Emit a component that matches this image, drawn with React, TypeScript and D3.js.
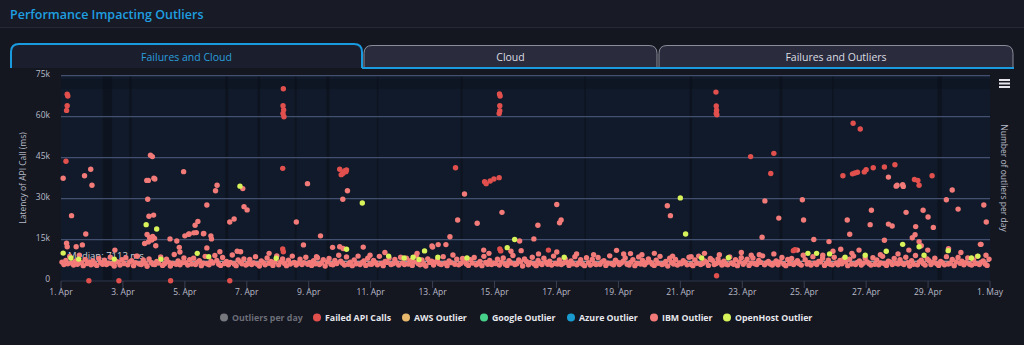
import React, { useEffect, useRef } from "react";
import * as d3 from "d3";

// latency values are in thousands of ms, positions in days after 1 Apr
const yTicks = [0, 15, 30, 45, 60, 75];
const tabNames = ["Failures and Cloud", "Cloud", "Failures and Outliers"];
const legendNames = [
  "Outliers per day",
  "Failed API Calls",
  "AWS Outlier",
  "Google Outlier",
  "Azure Outlier",
  "IBM Outlier",
  "OpenHost Outlier",
];
const legendColors = ["#8a8b90", "#e2504e", "#e8b86c", "#47d08a", "#1a9bd0", "#f27a78", "#d8f25a"];
const medianMs = 7113;

// IBM outliers in the dense band, 16 readings per day
const ibmBand = [
  6.8, 5.9, 7.4, 6.2, 8.9, 6.5, 5.7, 7.1, 6.0, 9.3, 6.6, 5.5, 7.8, 6.3, 6.9, 5.8,
  7.2, 6.1, 5.6, 8.1, 6.7, 6.0, 7.5, 5.9, 6.4, 8.6, 6.2, 5.4, 7.0, 6.8, 5.7, 7.7,
  6.3, 8.4, 5.8, 6.9, 7.3, 5.5, 6.6, 9.0, 6.1, 5.9, 7.6, 6.4, 5.3, 8.0, 6.7, 6.0,
  5.9, 7.0, 6.5, 8.7, 5.6, 6.2, 7.9, 6.8, 5.4, 6.3, 9.6, 6.0, 7.2, 5.8, 6.6, 8.3,
  6.6, 5.7, 7.7, 6.1, 8.2, 5.9, 6.8, 7.3, 5.5, 6.4, 8.9, 6.2, 5.8, 7.1, 6.5, 9.2,
  7.4, 6.0, 5.6, 8.5, 6.3, 7.0, 5.8, 6.7, 9.4, 6.1, 5.5, 7.6, 6.9, 6.2, 8.0, 5.7,
  6.2, 7.8, 5.9, 6.5, 8.8, 6.0, 5.4, 7.2, 6.6, 5.8, 8.3, 6.4, 7.0, 5.6, 6.8, 9.1,
  5.8, 6.9, 8.0, 6.3, 5.5, 7.5, 6.1, 9.0, 6.7, 5.7, 6.4, 7.9, 5.9, 6.6, 8.6, 6.0,
  6.7, 5.6, 7.3, 6.2, 8.4, 5.9, 6.5, 7.7, 5.4, 6.9, 8.1, 6.0, 5.8, 7.4, 6.3, 9.3,
  7.1, 6.4, 5.7, 8.7, 6.0, 6.8, 5.5, 7.6, 6.2, 9.0, 5.9, 6.6, 7.2, 5.6, 8.2, 6.1,
  6.0, 7.4, 6.6, 5.8, 8.9, 6.3, 5.5, 7.0, 6.7, 8.3, 5.9, 6.2, 7.8, 6.5, 5.7, 8.6,
  6.5, 5.9, 8.2, 6.1, 7.3, 5.6, 6.9, 9.1, 6.3, 5.8, 7.6, 6.0, 5.4, 8.0, 6.7, 7.1,
  5.7, 6.8, 7.5, 6.2, 5.9, 8.8, 6.4, 5.5, 7.2, 6.6, 9.4, 6.0, 7.9, 5.8, 6.3, 8.1,
  6.9, 6.1, 5.6, 7.7, 6.5, 8.5, 5.8, 6.3, 7.0, 5.5, 8.9, 6.7, 6.0, 7.4, 5.9, 6.4,
  6.3, 7.9, 5.7, 6.8, 8.3, 6.0, 5.6, 7.3, 6.5, 9.2, 5.9, 6.2, 7.6, 6.9, 5.4, 8.0,
  7.0, 5.8, 6.6, 8.6, 6.1, 5.5, 7.4, 6.4, 5.9, 8.2, 6.8, 6.0, 7.1, 5.7, 9.0, 6.3,
  6.1, 7.6, 5.9, 6.4, 8.0, 6.7, 5.6, 7.2, 6.2, 8.8, 5.8, 6.5, 7.7, 6.0, 5.5, 8.4,
  6.6, 5.7, 7.8, 6.3, 5.9, 8.5, 6.0, 6.9, 7.3, 5.6, 6.4, 9.1, 6.2, 5.8, 7.5, 6.8,
  5.9, 6.5, 7.1, 8.3, 6.0, 5.7, 6.8, 7.7, 5.5, 6.3, 8.7, 6.1, 7.4, 5.8, 6.6, 8.0,
  6.8, 6.0, 5.6, 7.5, 6.4, 8.9, 5.9, 6.2, 7.0, 5.4, 8.2, 6.7, 6.1, 7.8, 5.7, 6.5,
  6.2, 7.3, 6.7, 5.8, 8.6, 6.0, 5.5, 7.6, 6.4, 9.0, 5.9, 6.3, 7.2, 6.8, 5.6, 8.1,
  7.5, 5.9, 6.3, 8.0, 6.6, 5.7, 7.1, 6.1, 5.8, 8.7, 6.5, 6.0, 7.7, 5.5, 6.9, 8.4,
  6.0, 6.8, 7.9, 5.6, 6.4, 8.3, 6.2, 5.9, 7.4, 6.7, 9.1, 5.8, 6.5, 7.0, 6.1, 5.7,
  6.4, 7.2, 5.8, 6.9, 8.5, 6.0, 5.5, 7.8, 6.3, 8.1, 5.9, 6.6, 7.3, 6.2, 5.7, 9.3,
  7.7, 6.1, 6.6, 5.7, 8.8, 6.4, 5.9, 7.0, 6.8, 8.2, 5.6, 6.3, 7.5, 6.0, 5.8, 8.6,
  6.5, 5.8, 7.4, 6.2, 8.0, 6.9, 5.5, 7.9, 6.1, 9.0, 5.9, 6.7, 7.2, 5.7, 6.4, 8.3,
  6.9, 6.3, 5.7, 8.4, 6.0, 7.6, 5.8, 6.5, 8.9, 6.2, 5.6, 7.1, 6.8, 5.9, 8.1, 6.4,
  6.1, 7.7, 6.4, 5.9, 8.6, 6.6, 5.4, 7.3, 6.0, 9.2, 5.8, 6.9, 7.5, 6.3, 5.7, 8.0,
  7.3, 5.9, 6.7, 8.2, 6.2, 5.6, 7.0, 6.5, 5.8, 8.8, 6.1, 6.4, 7.8, 5.5, 6.9, 8.5,
  6.4, 7.1, 5.8, 6.6, 8.3, 6.0, 5.7, 7.6, 6.3, 8.9, 5.9, 6.8, 7.2, 6.1, 5.6, 7.9,
];
const bandPerDay = 16;

// IBM outliers above the band [day, latency k]
const ibmHigh = [
  [0.07, 37.5], [0.96, 40.8], [0.76, 38.4], [1.0, 34.9], [0.34, 23.8], [0.8, 17.1], [0.18, 13.7],
  [0.69, 13.1], [0.2, 12.4], [0.49, 12.4], [1.74, 11.2], [2.43, 9.0],
  [2.89, 45.9], [2.95, 45.4], [2.77, 36.7], [2.82, 36.7], [3.0, 37.5], [3.03, 37.2], [2.8, 29.8],
  [2.84, 23.6], [2.99, 24.0], [2.78, 16.9], [2.86, 15.8], [2.93, 14.9], [2.96, 16.2], [3.02, 15.5],
  [2.7, 13.6], [2.82, 14.2], [3.06, 12.8], [3.82, 12.2], [3.84, 10.5],
  [3.96, 39.9], [5.04, 34.9], [4.99, 32.9], [4.71, 27.7], [4.42, 21.7], [4.33, 20.3], [4.29, 17.5],
  [4.12, 17.0], [4.0, 16.4], [4.61, 17.3], [4.86, 15.3], [3.52, 15.3], [3.74, 14.5], [5.59, 22.6],
  [5.45, 21.5], [5.87, 33.7], [5.91, 27.1], [6.01, 25.9], [4.14, 17.1], [4.37, 17.6], [4.6, 17.2],
  [4.71, 12.0], [4.84, 16.4], [5.13, 10.6], [5.69, 10.8], [5.8, 10.6], [6.72, 10.0],
  [7.6, 21.5], [7.96, 35.5], [8.38, 16.4], [7.83, 13.1], [9.25, 32.9], [9.1, 29.8], [9.76, 12.3],
  [8.25, 8.8], [8.77, 12.2], [9.0, 12.4], [9.11, 11.8], [9.98, 9.3], [10.46, 10.3], [11.5, 10.0],
  [11.98, 12.7], [12.18, 13.2], [12.43, 13.2], [12.56, 16.1], [12.0, 12.3],
  [13.03, 31.7], [14.24, 25.0], [12.81, 22.2], [13.44, 21.0], [16.01, 27.9], [16.15, 22.2],
  [16.1, 21.2], [15.4, 20.3], [15.27, 15.3], [14.81, 14.5], [13.65, 11.2], [13.82, 10.0],
  [14.53, 10.8], [14.86, 11.0], [15.42, 9.8], [16.01, 10.5], [16.65, 9.8], [17.2, 9.5],
  [17.94, 11.1], [18.17, 9.8], [18.39, 9.9], [18.76, 9.5], [19.16, 10.0], [19.75, 9.0],
  [19.58, 27.4], [19.68, 23.8],
  [20.35, 8.8], [20.78, 10.0], [21.26, 9.5], [21.97, 10.3], [22.29, 9.3], [22.55, 9.5],
  [22.64, 15.9], [23.02, 9.8], [23.78, 11.2], [24.31, 15.1], [24.6, 9.3], [24.8, 14.3],
  [24.93, 10.8], [25.18, 11.5], [25.47, 17.0], [25.54, 10.0], [25.77, 11.2], [26.59, 14.8],
  [26.46, 9.5], [27.03, 9.8], [27.38, 11.2], [27.49, 15.7], [27.58, 16.8], [27.71, 14.3],
  [27.78, 12.8], [27.99, 11.2], [28.66, 11.7], [29.06, 10.3], [29.69, 13.3], [29.87, 9.3],
  [22.73, 29.2], [23.94, 29.6], [23.18, 22.9], [23.98, 22.2], [26.17, 25.8], [25.39, 22.2],
  [26.13, 20.5], [26.72, 20.7], [26.84, 20.0], [27.29, 25.0], [27.84, 25.8], [28.0, 23.3],
  [27.6, 19.8], [28.17, 19.5], [28.78, 33.2], [28.59, 29.6], [28.97, 26.2], [29.8, 27.7],
  [29.88, 21.5], [26.97, 34.6], [27.0, 34.9], [27.18, 35.1], [27.2, 34.5], [26.72, 37.9],
  [29.71, 13.3],
];

// failed API calls [day, latency k]
const failedCalls = [
  [0.2, 68.2], [0.22, 67.6], [0.2, 64.0], [0.18, 62.3], [0.16, 43.7],
  [0.9, 0], [1.87, 0], [3.54, 0], [5.45, 0],
  [7.18, 70.2], [7.17, 64.0], [7.19, 62.5], [7.17, 61.2], [7.2, 60.0], [7.16, 41.1], [7.16, 11.6], [7.18, 10.6],
  [9.0, 40.8], [9.05, 38.8], [9.12, 39.6], [9.17, 40.2], [9.2, 39.9], [9.22, 40.5], [9.1, 39.2],
  [14.16, 68.3], [14.18, 67.6], [14.17, 64.0], [14.17, 62.2], [14.15, 61.2], [14.17, 11.6], [14.2, 10.9],
  [13.68, 36.2], [13.73, 35.5], [13.86, 36.5], [13.98, 37.2], [14.15, 37.7], [12.74, 41.3], [15.74, 11.2],
  [21.15, 69.0], [21.16, 63.9], [21.17, 62.4], [21.16, 61.2], [21.18, 60.7], [21.17, 1.8],
  [25.58, 57.6], [25.81, 55.5], [22.27, 45.4], [23.02, 46.6], [23.65, 11.0], [23.7, 11.3],
  [22.92, 39.2], [25.25, 38.4], [25.56, 39.1], [25.64, 39.4], [25.72, 39.7], [25.94, 39.8],
  [26.0, 40.6], [26.23, 41.3], [26.59, 41.6], [26.93, 42.4], [27.56, 37.0], [27.67, 36.7],
  [27.71, 34.9], [28.13, 38.4],
];

// OpenHost outliers [day, latency k]
const openHost = [
  [0.07, 10.1], [0.32, 8.3], [0.57, 7.9], [1.72, 7.9], [2.75, 20.5], [3.09, 18.9], [3.23, 7.9],
  [4.4, 10.0], [4.77, 8.8], [5.78, 34.6], [6.95, 8.2], [9.22, 11.5], [9.73, 28.4], [10.58, 9.0],
  [11.08, 8.3], [11.37, 8.6], [11.56, 7.8], [11.74, 10.9], [12.17, 8.6], [13.11, 8.3],
  [14.41, 12.1], [14.65, 15.1], [16.25, 8.6], [20.0, 30.3], [20.17, 17.1], [20.69, 8.3],
  [21.55, 8.4], [24.12, 10.0], [24.4, 10.0], [24.82, 9.8], [25.32, 8.6], [25.97, 9.3],
  [26.65, 10.8], [27.18, 13.3], [27.71, 12.4], [27.87, 9.3], [28.65, 11.0], [29.4, 8.3], [29.61, 9.0],
];

// dim per-day columns behind the points [start day, width in days]
const darkColumns = [
  [1.35, 0.3], [2.2, 0.08], [5.3, 0.1], [6.35, 0.08], [7.55, 0.06], [8.57, 0.1], [10.2, 0.05],
  [12.9, 0.07], [16.9, 0.05], [20.3, 0.08], [23.2, 0.1], [24.9, 0.05], [28.3, 0.15],
];

const start = Date.UTC(2024, 3, 1);
const toDate = (d: number) => new Date(start + d * 86400000);

const App = () => {
  const ref = useRef<SVGSVGElement>(null);

  useEffect(() => {
    const svg = d3.select(ref.current);
    svg.selectAll("*").remove();
    const font = "'Open Sans', 'Noto Sans', sans-serif";

    svg.append("rect").attr("width", 1024).attr("height", 345).attr("fill", "#141620");
    svg.append("rect").attr("width", 1024).attr("height", 27).attr("fill", "#181a26");
    svg.append("line").attr("x1", 0).attr("x2", 1024).attr("y1", 27.5).attr("y2", 27.5)
      .attr("stroke", "#262938");
    svg.append("text").attr("x", 10).attr("y", 19).attr("fill", "#1f9fe0")
      .attr("font-family", font).attr("font-size", 12.5).attr("font-weight", 600)
      .text("Performance Impacting Outliers");

    // tabs
    const tabX = [[11, 362], [364, 657], [659, 1013]];
    const tabPath = (x0: number, x1: number, y0: number, y1: number, r: number) =>
      `M${x0},${y1} L${x0},${y0 + r} Q${x0},${y0} ${x0 + r},${y0} L${x1 - r},${y0} Q${x1},${y0} ${x1},${y0 + r} L${x1},${y1}`;
    tabNames.forEach((name, i) => {
      const [x0, x1] = tabX[i];
      const active = i === 0;
      svg.append("path")
        .attr("d", tabPath(x0, x1, active ? 44 : 45.5, 68, 8) + (active ? "" : " Z"))
        .attr("fill", active ? "#1b1e2d" : "#2a2c3d")
        .attr("stroke", active ? "#1a9be0" : "#8a8c98")
        .attr("stroke-width", active ? 2 : 1);
      svg.append("text").attr("x", (x0 + x1) / 2).attr("y", 61)
        .attr("text-anchor", "middle").attr("font-family", font).attr("font-size", 10.5)
        .attr("fill", active ? "#2a9fdc" : "#dcdde3").text(name);
    });
    svg.append("line").attr("x1", 362).attr("x2", 1014).attr("y1", 68).attr("y2", 68)
      .attr("stroke", "#1a9be0").attr("stroke-width", 2);

    const x = d3.scaleUtc().domain([toDate(0), toDate(30)]).range([61, 990]);
    const y = d3.scaleLinear().domain([0, 75]).range([280.7, 75.7]);

    svg.append("rect").attr("x", 61).attr("y", 75.7).attr("width", 929).attr("height", 205)
      .attr("fill", "#111a2a");
    svg.append("g").selectAll("rect").data(darkColumns).join("rect")
      .attr("x", (d) => x(toDate(d[0])))
      .attr("y", 76)
      .attr("width", (d) => x(toDate(d[0] + d[1])) - x(toDate(d[0])))
      .attr("height", 204)
      .attr("fill", "#000").attr("opacity", 0.22);
    svg.append("rect").attr("x", 61).attr("y", 79).attr("width", 929).attr("height", 10)
      .attr("fill", "#0a0f1a").attr("opacity", 0.45);

    // grid + y labels
    svg.append("g").selectAll("line").data(yTicks.filter((t) => t > 0)).join("line")
      .attr("x1", 61).attr("x2", 990)
      .attr("y1", (d) => y(d)).attr("y2", (d) => y(d))
      .attr("stroke", "#43506f").attr("stroke-width", 1.3);
    svg.append("g").selectAll("text").data(yTicks).join("text")
      .attr("x", 50).attr("y", (d) => y(d) + 1)
      .attr("text-anchor", "end").attr("font-family", font).attr("font-size", 8.5)
      .attr("fill", "#b9bcc8")
      .text((d) => (d === 0 ? "0" : `${d}k`));

    // x axis
    svg.append("line").attr("x1", 61).attr("x2", 990).attr("y1", 281).attr("y2", 281)
      .attr("stroke", "#2e3446");
    const xTicks = x.ticks(d3.utcDay.every(2) as any);
    const fmt = d3.utcFormat("%-d. %b");
    svg.append("g").selectAll("line").data(xTicks).join("line")
      .attr("x1", (d) => x(d)).attr("x2", (d) => x(d)).attr("y1", 281).attr("y2", 288)
      .attr("stroke", "#3a4154");
    svg.append("g").selectAll("text").data(xTicks).join("text")
      .attr("x", (d) => x(d)).attr("y", 295)
      .attr("text-anchor", "middle").attr("font-family", font).attr("font-size", 8.5)
      .attr("fill", "#b9bcc8").text((d) => fmt(d));

    // axis titles
    svg.append("text").attr("transform", "translate(26,178) rotate(-90)")
      .attr("text-anchor", "middle").attr("font-family", font).attr("font-size", 8.5)
      .attr("fill", "#b9bcc8").text("Latency of API Call (ms)");
    svg.append("text").attr("transform", "translate(1001,178) rotate(90)")
      .attr("text-anchor", "middle").attr("font-family", font).attr("font-size", 8.5)
      .attr("fill", "#b9bcc8").text("Number of outliers per day");

    // menu icon
    svg.append("g").selectAll("line").data([80, 83.5, 87]).join("line")
      .attr("x1", 999).attr("x2", 1010).attr("y1", (d) => d).attr("y2", (d) => d)
      .attr("stroke", "#e4e4ea").attr("stroke-width", 2);

    // median
    const my = y(medianMs / 1000);
    svg.append("line").attr("x1", 61).attr("x2", 990).attr("y1", my).attr("y2", my)
      .attr("stroke", "#c3c6d0").attr("stroke-width", 1);
    svg.append("text").attr("x", 68).attr("y", my - 2).attr("font-family", font)
      .attr("font-size", 9.5).attr("fill", "#cfd1d8").text(`Median: ${medianMs} ms`);

    const band = ibmBand.map((v, i) => [(i + 0.5) / bandPerDay, v]);
    const drawDots = (data: number[][], color: string) =>
      svg.append("g").selectAll("circle").data(data).join("circle")
        .attr("cx", (d) => x(toDate(d[0])))
        .attr("cy", (d) => y(d[1]))
        .attr("r", 2.7)
        .attr("fill", color);
    drawDots(band, legendColors[5]);
    drawDots(ibmHigh, legendColors[5]);
    drawDots(failedCalls, legendColors[1]);
    drawDots(openHost, legendColors[6]);

    // legend
    const legendX = [224, 317, 406, 484, 571, 654, 727];
    legendNames.forEach((name, i) => {
      svg.append("circle").attr("cx", legendX[i]).attr("cy", 317.5).attr("r", 4)
        .attr("fill", i === 0 ? "#77787e" : legendColors[i]);
      svg.append("text").attr("x", legendX[i] + 8).attr("y", 320.8)
        .attr("font-family", font).attr("font-size", 8.8).attr("font-weight", 700)
        .attr("fill", i === 0 ? "#6c6e78" : "#e6e7ec").text(name);
    });
  }, []);

  return (
    <svg
      ref={ref}
      width={1024}
      height={345}
      style={{ position: "absolute", left: 0, top: 0, display: "block" }}
    />
  );
};

export default App;
